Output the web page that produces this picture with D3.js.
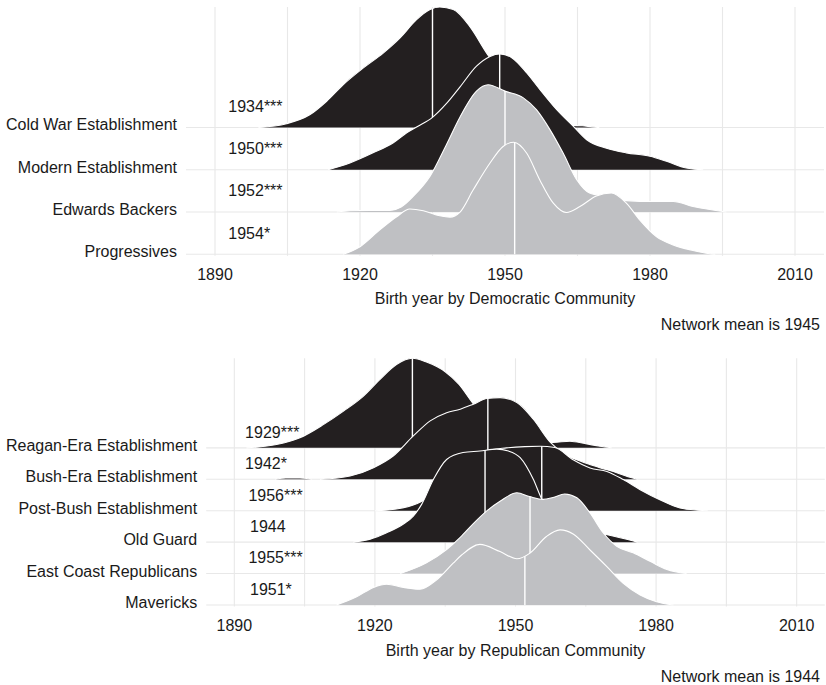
<!DOCTYPE html>
<html><head><meta charset="utf-8">
<script src="https://cdn.jsdelivr.net/npm/d3@7"></script>
<style>
body{margin:0;background:#fff;}
svg text{font-family:"Liberation Sans", Arial, Helvetica, sans-serif;}
</style></head>
<body>
<svg id="chart" width="826" height="685"></svg>
<script>
// ---------- data ----------
const xTicks = [1890, 1920, 1950, 1980, 2010];
const xMinorTicks = [1905, 1935, 1965, 1995];

// Democratic panel
const demCommunities = ["Cold War Establishment", "Modern Establishment", "Edwards Backers", "Progressives"];
const demMeanLabels = ["1934***", "1950***", "1952***", "1954*"];
const demLineYears = [1935.0, 1948.9, 1950.0, 1952.0];
const demShade = ["dark", "dark", "light", "light"];
const demLabelYears = [1892.75, 1892.75, 1892.75, 1892.75];
// density (relative units: 100 = one row spacing)
const demColdWar = [[1899,0],[1904.8,9],[1909.6,30],[1913.1,62],[1916.5,101],[1920.7,141],[1924.8,176],[1928.3,212],[1931.7,255],[1934.5,279],[1936.5,285],[1939.3,279],[1942.7,239],[1946.2,176],[1950,114],[1954,66],[1958,28],[1961,12],[1963.5,5],[1966,4],[1968,1.5],[1969.5,0]];
const demModern = [[1913.4,0],[1917.9,16],[1922.7,40],[1926.9,64],[1929.6,87],[1932,103],[1935,124],[1938,158],[1940.7,196],[1944.1,245],[1946.9,268],[1948.9,274],[1951.4,265],[1954.5,229],[1957.2,190],[1960.7,142],[1964.1,103],[1966.9,71],[1971,51],[1975.1,40],[1980,32],[1983.4,20],[1987.5,4],[1991,0]];
const demEdwards = [[1915.2,0],[1918,3],[1922,4],[1926.2,4],[1928.5,12],[1931,37],[1934.5,85],[1937.9,160],[1940.7,225],[1944.1,286],[1946.5,301],[1950,286],[1953.8,270],[1956.5,242],[1959.3,195],[1962,140],[1964.8,77],[1967.5,45],[1971,37],[1975.1,27],[1980.6,25],[1984.8,25],[1988.9,13],[1995.8,0]];
const demProgressives = [[1916.5,0],[1920,18],[1924.1,58],[1927.6,89],[1930.3,107],[1933.1,103],[1936.5,91],[1938.6,88],[1940.7,100],[1943.4,152],[1946.9,216],[1949.6,255],[1951.8,265],[1954.5,239],[1957.2,176],[1960,121],[1962.7,99],[1965.5,113],[1968.9,138],[1972,145],[1975.1,121],[1977.9,81],[1981.3,42],[1984.8,22],[1988.9,9],[1992,2],[1993.5,0]];

// Republican panel
const repCommunities = ["Reagan-Era Establishment", "Bush-Era Establishment", "Post-Bush Establishment", "Old Guard", "East Coast Republicans", "Mavericks"];
const repMeanLabels = ["1929***", "1942*", "1956***", "1944", "1955***", "1951*"];
const repLineYears = [1928.0, 1944.1, 1955.6, 1943.5, 1953.1, 1952.0];
const repShade = ["dark", "dark", "dark", "dark", "light", "light"];
const repLabelYears = [1892.3, 1892.3, 1893.0, 1893.35, 1893.0, 1893.35];
const repReagan = [[1892.6,0],[1899,10.5],[1904,32],[1909,74],[1913.3,117],[1917.5,164],[1921.1,218],[1924.6,265],[1928,285],[1931,273],[1935,242],[1938,201],[1941,140],[1945,80],[1950,38],[1955,19],[1958,17.5],[1961.6,21],[1965,13],[1968,5],[1970.5,0]];
const repBush = [[1898.7,0],[1901,4],[1904,4],[1906.5,0],[1907.4,null],[1908.3,0],[1914.7,10.5],[1919.7,37],[1923.9,74],[1928.2,138],[1931.8,186],[1935.3,212],[1938.2,223],[1941,239],[1943.9,257],[1946.7,260],[1950.3,244],[1953.8,191],[1957.4,118],[1960.5,80],[1963.8,58],[1968,37],[1971.6,21],[1974,8],[1976,0]];
const repPostBush = [[1920,0],[1924.6,5.4],[1928.9,22],[1932,48],[1935,96],[1938,143],[1941,175],[1943,188],[1948.1,200],[1952,204],[1955.2,205],[1958.4,201],[1962.3,162],[1965.9,136],[1969.5,125],[1973,99],[1976.6,67],[1980.8,35],[1985.1,8.6],[1989,1.6],[1991,0]];
const repOldGuard = [[1915.4,0],[1919,9.6],[1922.5,30],[1926,57],[1928.2,83],[1930,121],[1932.5,200],[1935.3,263],[1938.8,285],[1942.4,290],[1946,296],[1948.5,290],[1951,269],[1953.8,200],[1955.6,137],[1958,89],[1961,54],[1964,35],[1967,29],[1969,25],[1971,19],[1973.5,10],[1976,0]];
const repEastCoast = [[1925.4,0],[1931,34],[1935.3,76],[1938.2,115],[1941,159],[1944,201],[1946.7,230],[1950.3,257],[1953,245],[1955.9,236],[1958,242],[1960.5,253],[1963.1,241],[1965.9,193],[1968.7,130],[1971.6,87],[1975.1,66],[1978.7,39],[1982.3,13],[1986.5,0]];
const repMavericks = [[1911.8,0],[1916.1,26],[1919.7,56],[1922.5,66],[1926.1,56],[1929.6,50],[1933.2,80],[1936.7,133],[1938.5,159],[1942.4,193],[1946.7,170],[1950.3,147],[1953.1,165],[1956.6,218],[1959.5,239],[1962.3,226],[1965.9,175],[1969.5,122],[1973,69],[1976.6,32],[1980.1,10.5],[1983.7,0]];

const axisTitles = ["Birth year by Democratic Community", "Birth year by Republican Community"];
const captions = ["Network mean is 1945", "Network mean is 1944"];

// ---------- layout / style ----------
const xDomain = [1884, 2016];
const FONT = 16;
const colors = {dark: "#231f20", light: "#bfc0c3", grid: "#e8e8e8", text: "#1a1a1a"};

const panels = [
  {communities: demCommunities, series: [demColdWar, demModern, demEdwards, demProgressives],
   labels: demMeanLabels, lines: demLineYears, shade: demShade, labelYears: demLabelYears,
   left: 186, right: 824, top: 7, lastRow: 254.3, title: axisTitles[0], caption: captions[0],
   tickOff: 26, titleOff: 50, capOff: 75.5},
  {communities: repCommunities, series: [repReagan, repBush, repPostBush, repOldGuard, repEastCoast, repMavericks],
   labels: repMeanLabels, lines: repLineYears, shade: repShade, labelYears: repLabelYears,
   left: 206.2, right: 824.8, top: 358.3, lastRow: 605, title: axisTitles[1], caption: captions[1],
   tickOff: 26, titleOff: 51, capOff: 77}
];

const svg = d3.select("#chart");
svg.append("rect").attr("width", 826).attr("height", 685).attr("fill", "#fff");
const defs = svg.append("defs");

panels.forEach((p, pi) => {
  const g = svg.append("g");
  const n = p.communities.length;
  const x = d3.scaleLinear().domain(xDomain).range([p.left, p.right]);
  const maxFirst = d3.max(p.series[0], d => d[1]);
  const step = (p.lastRow - p.top) / ((n - 1) + maxFirst / 100);
  const y = d3.scalePoint().domain(p.communities).range([p.lastRow - (n - 1) * step, p.lastRow]);
  const h = d3.scaleLinear().domain([0, 100]).range([0, step]);
  const bottom = p.lastRow + 1.5;

  // grid
  const grid = g.append("g");
  grid.selectAll("line.v").data(xTicks.concat(xMinorTicks)).join("line")
    .attr("x1", d => x(d)).attr("x2", d => x(d))
    .attr("y1", p.top).attr("y2", bottom)
    .attr("stroke", colors.grid).attr("stroke-width", 1.1);
  grid.selectAll("line.h").data(p.communities).join("line")
    .attr("x1", p.left).attr("x2", p.right)
    .attr("y1", d => y(d)).attr("y2", d => y(d))
    .attr("stroke", colors.grid).attr("stroke-width", 1.1);

  // ridges, top row first so lower rows overlap
  p.communities.forEach((c, i) => {
    const base = y(c);
    const data = p.series[i];
    const area = d3.area().defined(d => d[1] != null)
      .x(d => x(d[0])).y0(base).y1(d => base - h(d[1])).curve(d3.curveMonotoneX);
    const line = d3.line().defined(d => d[1] != null)
      .x(d => x(d[0])).y(d => base - h(d[1])).curve(d3.curveMonotoneX);
    const id = `clip-${pi}-${i}`;
    defs.append("clipPath").attr("id", id).append("path").attr("d", area(data));
    const rg = g.append("g");
    rg.append("path").attr("d", area(data)).attr("fill", colors[p.shade[i]]);
    rg.append("line")
      .attr("x1", x(p.lines[i])).attr("x2", x(p.lines[i]))
      .attr("y1", base + 1).attr("y2", p.top - 10)
      .attr("stroke", "#fff").attr("stroke-width", 1.4)
      .attr("clip-path", `url(#${id})`);
    rg.append("path").attr("d", line(data)).attr("fill", "none")
      .attr("stroke", "#fff").attr("stroke-width", 1.1);
  });

  // mean labels
  g.append("g").selectAll("text").data(p.communities).join("text")
    .attr("x", (d, i) => x(p.labelYears[i]))
    .attr("y", d => y(d) - 0.5 * step + 5.5)
    .attr("font-size", FONT).attr("fill", colors.text)
    .text((d, i) => p.labels[i]);

  // y axis labels
  g.append("g").selectAll("text").data(p.communities).join("text")
    .attr("x", p.left - 9).attr("y", d => y(d) + 3)
    .attr("text-anchor", "end").attr("font-size", FONT).attr("fill", colors.text)
    .text(d => d);

  // x tick labels
  g.append("g").selectAll("text").data(xTicks).join("text")
    .attr("x", d => x(d)).attr("y", p.lastRow + p.tickOff)
    .attr("text-anchor", "middle").attr("font-size", FONT).attr("fill", colors.text)
    .text(d => d);

  g.append("text").attr("x", (p.left + p.right) / 2).attr("y", p.lastRow + p.titleOff)
    .attr("text-anchor", "middle").attr("font-size", FONT).attr("fill", colors.text)
    .text(p.title);
  g.append("text").attr("x", 820).attr("y", p.lastRow + p.capOff)
    .attr("text-anchor", "end").attr("font-size", FONT).attr("fill", colors.text)
    .text(p.caption);
});
</script>
</body></html>
